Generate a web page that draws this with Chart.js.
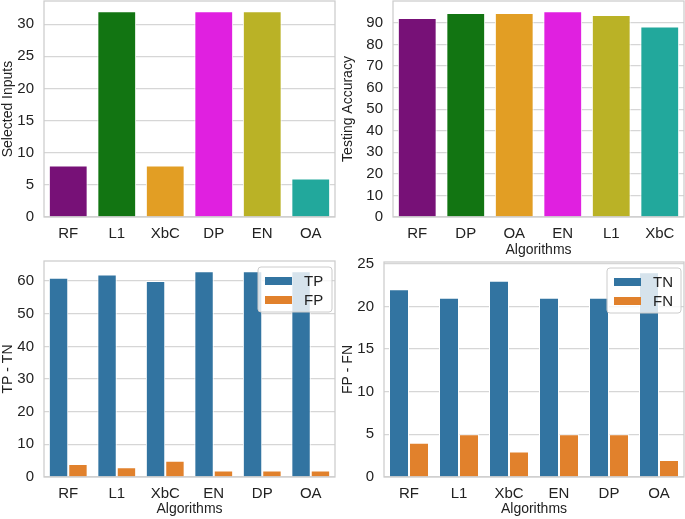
<!DOCTYPE html>
<html>
<head>
<meta charset="utf-8">
<script src="https://cdn.jsdelivr.net/npm/chart.js@4.4.0/dist/chart.umd.min.js"></script>
<style>
  body { margin: 0; background: #fff; width: 685px; height: 519px; position: relative; overflow: hidden; }
  canvas { position: absolute; }
</style>
</head>
<body>
<canvas id="c1" width="340" height="250" style="left:0;top:0"></canvas>
<canvas id="c2" width="345" height="260" style="left:340px;top:0"></canvas>
<canvas id="c3" width="340" height="269" style="left:0;top:250px"></canvas>
<canvas id="c4" width="345" height="269" style="left:340px;top:250px"></canvas>
<script>
// data
const selCats = ['RF', 'L1', 'XbC', 'DP', 'EN', 'OA'];
const selInputs = [8, 32, 8, 32, 32, 6];

const accCats = ['RF', 'DP', 'OA', 'EN', 'L1', 'XbC'];
const accuracy = [92.3, 94.6, 94.6, 95.4, 93.7, 88.3];

const confCats = ['RF', 'L1', 'XbC', 'EN', 'DP', 'OA'];
const tpVals = [61, 62, 60, 63, 63, 63];
const fpVals = [4, 3, 5, 2, 2, 2];
const tnVals = [22, 21, 23, 21, 21, 24];
const fnVals = [4, 5, 3, 5, 5, 2];

const palette = ['#771177', '#127512', '#e29e24', '#e020e0', '#bab226', '#22a89c'];
const blue = '#3274a1';
const orange = '#e1812c';

const FONT = 'Liberation Sans, Arial, sans-serif';
const TXT = '#222222';

// axes frame, like the seaborn whitegrid spines
const frame = {
  id: 'frame',
  afterDatasetsDraw(chart) {
    const a = chart.chartArea, ctx = chart.ctx;
    ctx.save();
    ctx.strokeStyle = '#cccccc';
    ctx.lineWidth = 1.25;
    ctx.strokeRect(a.left, a.top, a.right - a.left, a.bottom - a.top);
    ctx.restore();
  }
};

// legend box inside the upper right corner
const boxLegend = {
  id: 'boxLegend',
  afterDraw(chart, args, opts) {
    if (!opts.show) return;
    const a = chart.chartArea, ctx = chart.ctx;
    const w = 74, h = 45;
    const x0 = a.right - 3 - w, y0 = a.top + 6;
    ctx.save();
    ctx.beginPath();
    ctx.roundRect(x0, y0, w, h, 3);
    ctx.fillStyle = 'rgba(255,255,255,0.8)';
    ctx.fill();
    ctx.strokeStyle = '#cccccc';
    ctx.lineWidth = 1;
    ctx.stroke();
    ctx.font = '15px ' + FONT;
    ctx.textBaseline = 'middle';
    chart.data.datasets.forEach((d, i) => {
      const py = y0 + 10 + i * 19;
      ctx.fillStyle = d.backgroundColor;
      ctx.fillRect(x0 + 7, py, 27, 8);
      ctx.fillStyle = TXT;
      ctx.fillText(d.label, x0 + 46, py + 4.5);
    });
    ctx.restore();
  }
};

function makeChart(id, cats, datasets, o) {
  return new Chart(document.getElementById(id), {
    type: 'bar',
    data: { labels: cats, datasets: datasets },
    plugins: [frame, boxLegend],
    options: {
      responsive: false,
      animation: false,
      layout: { padding: o.pad },
      plugins: {
        legend: { display: false },
        tooltip: { enabled: false },
        boxLegend: { show: o.legend }
      },
      scales: {
        x: {
          grid: { display: false, drawTicks: false },
          border: { display: false },
          ticks: { color: TXT, font: { family: FONT, size: 15 }, padding: 8, maxRotation: 0 },
          title: {
            display: !!o.xTitle, text: o.xTitle || '', color: TXT,
            font: { family: FONT, size: 14 }, padding: { top: 0, bottom: 1 }
          },
          afterFit: s => { s.height = o.xh; s.paddingLeft = 0; s.paddingRight = 0; }
        },
        y: {
          min: 0,
          max: o.ymax,
          grid: { color: '#d6d6d6', lineWidth: 1.25, drawTicks: false },
          border: { display: false },
          ticks: {
            stepSize: o.step, includeBounds: false, color: TXT,
            font: { family: FONT, size: 15 }, padding: 10
          },
          afterBuildTicks: s => { s.ticks = s.ticks.filter(t => t.value <= o.topTick); },
          title: {
            display: true, text: o.yTitle, color: TXT,
            font: { family: FONT, size: 14 }, padding: { top: 0, bottom: 0 }
          },
          afterFit: s => { s.width = o.yw; s.paddingTop = 0; s.paddingBottom = 0; }
        }
      }
    }
  });
}

function single(vals) {
  return [{
    data: vals, backgroundColor: palette, borderColor: '#ffffff', borderWidth: 1,
    barPercentage: 0.8, categoryPercentage: 1.0
  }];
}
function pair(l1, v1, l2, v2) {
  return [
    { label: l1, data: v1, backgroundColor: blue, borderColor: '#ffffff', borderWidth: 1,
      barPercentage: 1.0, categoryPercentage: 0.8 },
    { label: l2, data: v2, backgroundColor: orange, borderColor: '#ffffff', borderWidth: 1,
      barPercentage: 1.0, categoryPercentage: 0.8 }
  ];
}

makeChart('c1', selCats, single(selInputs), {
  pad: { top: 1, right: 5, left: 0, bottom: 0 }, yw: 44, xh: 33,
  ymax: Math.max(...selInputs) * 1.05, step: 5, topTick: 30, yTitle: 'Selected Inputs'
});
makeChart('c2', accCats, single(accuracy), {
  pad: { top: 1, right: 1, left: 0, bottom: 0 }, yw: 53, xh: 43,
  ymax: Math.max(...accuracy) * 1.05, step: 10, topTick: 90, yTitle: 'Testing Accuracy', xTitle: 'Algorithms'
});
makeChart('c3', confCats, pair('TP', tpVals, 'FP', fpVals), {
  pad: { top: 11, right: 5, left: 0, bottom: 0 }, yw: 44, xh: 42,
  ymax: Math.max(...tpVals) * 1.05, step: 10, topTick: 60, yTitle: 'TP - TN', xTitle: 'Algorithms', legend: true
});
makeChart('c4', confCats, pair('TN', tnVals, 'FN', fnVals), {
  pad: { top: 12, right: 1, left: 0, bottom: 0 }, yw: 44, xh: 42,
  ymax: Math.max(...tnVals) * 1.05, step: 5, topTick: 25, yTitle: 'FP - FN', xTitle: 'Algorithms', legend: true
});
</script>
</body>
</html>
